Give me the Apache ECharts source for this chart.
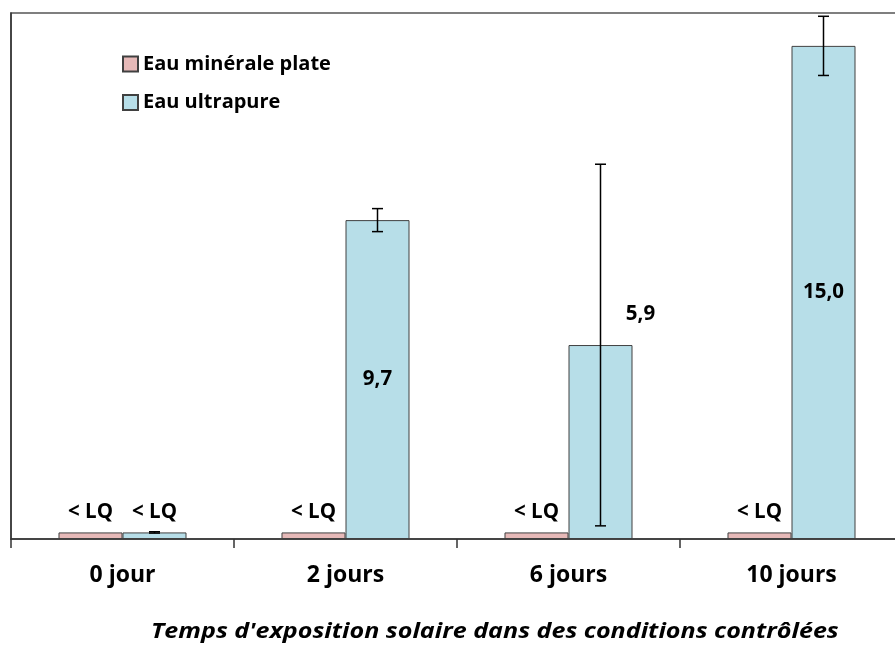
<!DOCTYPE html>
<html>
<head>
<meta charset="utf-8">
<script src="https://cdn.jsdelivr.net/npm/echarts@6/dist/echarts.min.js"></script>
<style>
  html, body { margin: 0; padding: 0; background: #fff; }
  #chart { width: 895px; height: 646px; }
</style>
</head>
<body>
<div id="chart"></div>
<script>
// Exposure durations (x categories)
const categories = ['0 jour', '2 jours', '6 jours', '10 jours'];
const seriesNames = ['Eau minérale plate', 'Eau ultrapure'];
const axisTitle = "Temps d'exposition solaire dans des conditions contrôlées";

// Still mineral water: all below the limit of quantification, drawn as a thin bar
const mineraleValues = [0.2, 0.2, 0.2, 0.2];
const mineraleLabels = ['< LQ', '< LQ', '< LQ', '< LQ'];

// Ultrapure water
const ultrapureValues = [0.2, 9.7, 5.9, 15.0];
const ultrapureLabels = ['< LQ', '9,7', '5,9', '15,0'];
const ultrapureErrors = [0.02, 0.35, 5.5, 0.9];

const FONT = 'Open Sans';
const BAR_FRACTION = 0.287;

const chart = echarts.init(document.getElementById('chart'));

function labelFor(texts, idx) { return texts[idx]; }

const ultrapureData = ultrapureValues.map((v, i) => {
  const item = { value: v };
  if (i === 0) {
    item.label = { position: 'top', distance: 10 };
  } else if (i === 2) {
    item.label = { position: 'top', distance: 20, offset: [40, 0] };
  } else {
    item.label = { position: 'inside' };
  }
  return item;
});

const errorData = ultrapureValues.map((v, i) => [i, v - ultrapureErrors[i], v + ultrapureErrors[i]]);

chart.setOption({
  animation: false,
  backgroundColor: '#ffffff',
  graphic: [{
    type: 'text',
    x: 151,
    y: 632,
    scaleX: 1.14,
    silent: true,
    style: {
      text: axisTitle,
      font: 'italic bold 22px "Open Sans"',
      fill: '#000',
      verticalAlign: 'middle',
      align: 'left'
    }
  }],
  legend: {
    orient: 'vertical',
    left: 117,
    top: 49,
    itemWidth: 15,
    itemHeight: 15,
    itemGap: 18.5,
    icon: 'rect',
    data: seriesNames,
    textStyle: { fontFamily: FONT, fontSize: 20, fontWeight: 'bold', color: '#000', lineHeight: 15 }
  },
  grid: {
    left: 11, top: 13, width: 892, bottom: 107,
    outerBoundsMode: 'none',
    show: true, borderColor: '#555', borderWidth: 1.5, backgroundColor: 'transparent'
  },
  xAxis: {
    type: 'category',
    data: categories,
    boundaryGap: true,
    axisLine: { show: true, lineStyle: { color: '#333', width: 1.5 } },
    axisTick: { show: true, length: 9, interval: 0, alignWithLabel: false, lineStyle: { color: '#333', width: 1.5 } },
    axisLabel: { margin: 25, fontFamily: FONT, fontSize: 23, fontWeight: 'bold', color: '#000' }
  },
  yAxis: {
    type: 'value',
    min: 0,
    max: 16,
    axisLine: { show: true, lineStyle: { color: '#333', width: 1.5 } },
    axisTick: { show: false },
    axisLabel: { show: false },
    splitLine: { show: false }
  },
  series: [
    {
      name: seriesNames[0],
      type: 'bar',
      data: mineraleValues,
      barWidth: (BAR_FRACTION * 100) + '%',
      barGap: '0%',
      itemStyle: { color: '#E6B9B8', borderColor: '#404040', borderWidth: 1 },
      label: {
        show: true,
        position: 'top',
        distance: 10,
        formatter: p => labelFor(mineraleLabels, p.dataIndex),
        fontFamily: FONT, fontSize: 20.5, fontWeight: 'bold', color: '#000'
      }
    },
    {
      name: seriesNames[1],
      type: 'bar',
      data: ultrapureData,
      barWidth: (BAR_FRACTION * 100) + '%',
      barGap: '0%',
      itemStyle: { color: '#B7DEE8', borderColor: '#404040', borderWidth: 1 },
      label: {
        show: true,
        formatter: p => labelFor(ultrapureLabels, p.dataIndex),
        fontFamily: FONT, fontSize: 20.5, fontWeight: 'bold', color: '#000'
      }
    },
    {
      name: 'erreur',
      type: 'custom',
      silent: true,
      z: 5,
      data: errorData,
      encode: { x: 0, y: [1, 2] },
      renderItem: function (params, api) {
        const idx = api.value(0);
        const band = api.size([1, 0])[0];
        const shift = band * BAR_FRACTION / 2;
        const low = api.coord([idx, api.value(1)]);
        const high = api.coord([idx, api.value(2)]);
        const x = low[0] + shift;
        const cap = 5.5;
        const style = { stroke: '#000', lineWidth: 1.5, fill: null };
        return {
          type: 'group',
          children: [
            { type: 'line', shape: { x1: x, y1: high[1], x2: x, y2: low[1] }, style: style },
            { type: 'line', shape: { x1: x - cap, y1: high[1], x2: x + cap, y2: high[1] }, style: style },
            { type: 'line', shape: { x1: x - cap, y1: low[1], x2: x + cap, y2: low[1] }, style: style }
          ]
        };
      }
    }
  ]
});
</script>
</body>
</html>
